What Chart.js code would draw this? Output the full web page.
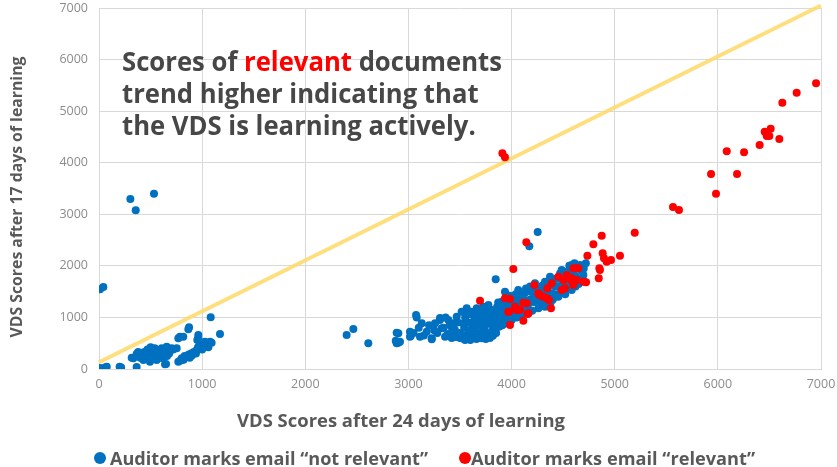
<!DOCTYPE html>
<html>
<head>
<meta charset="utf-8">
<script src="https://cdn.jsdelivr.net/npm/chart.js@4/dist/chart.umd.min.js"></script>
<style>
html,body{margin:0;padding:0;background:#fff;}
#wrap{position:relative;width:837px;height:467px;}
</style>
</head>
<body>
<div id="wrap"><canvas id="c" width="837" height="467"></canvas></div>
<script>
// ---- data ----
const axisTicks = [0, 1000, 2000, 3000, 4000, 5000, 6000, 7000];
const tickLabels = ['0', '1000', '2000', '3000', '4000', '5000', '6000', '7000'];

const notRelevantX = [
  0,15,30,45,60,75,8,200,215,365,
  317,333,365,398,430,462,494,511,559,559,608,624,656,705,640,650,420,450,480,500,530,550,580,600,620,650,680,720,753,470,520,540,590,455,380,400,440,610,575,660,540,500,
  769,785,802,850,898,947,996,1076,785,963,769,817,873,866,963,953,1028,1092,1083,1173,802,830,870,900,920,940,980,1010,1040,1060,880,820,1000,960,
  304,356,533,10,42,
  2401,2466,2611,2886,2877,2886,2902,2902,2918,3015,3022,3015,3074,
  3080,3112,3129,3177,3226,3226,3258,3306,3306,3322,3355,3387,3419,3435,3468,
  3280,3340,3380,3400,3450,3460,3480,3420,3360,3250,3200,3150,3100,3050,
  3500,3516,3500,3533,3516,3540,3550,3565,3549,3581,3580,3600,3613,3620,3646,3640,3662,3660,3694,3690,3700,3710,
  3560,3590,3620,3650,3670,3700,3720,3730,3760,3690,3630,3570,3680,3750,3600,3650,
  3726,3740,3740,3740,3750,3775,3770,3780,3790,3800,3810,3820,
  3790,3820,3850,3800,3830,3860,3880,3910,3920,3930,3950,3810,3760,3870,
  3839,3840,3850,3860,3870,3880,3890,3900,3904,3904,
  3936,3940,3950,3960,3970,3980,4001,4000,4010,4020,
  4065,4050,4060,4070,4080,4100,4110,4120,4130,4140,4163,4160,
  4030,4050,4090,4100,4150,4180,4190,4240,4250,4290,4320,4040,4180,
  4227,4200,4210,4220,4240,4260,4270,4280,4300,4300,
  4324,4324,4340,4350,4373,4380,4390,4400,
  4340,4360,4420,4420,4430,4470,4540,4550,4560,4620,4650,4700,4610,4400,
  4453,4450,4460,4486,4480,4500,4510,4520,
  4583,4580,4583,4600,4620,4640,4664,4660,4680,4696,4700,4720,
  4253,4172,3846
];
const notRelevantY = [
  0,5,0,15,30,45,20,45,30,40,
  220,207,290,271,175,336,142,368,368,175,401,207,433,401,91,95,300,250,300,200,280,320,260,330,280,350,300,380,401,380,330,230,220,210,330,220,330,370,300,250,400,420,
  142,160,207,239,304,368,465,530,627,607,595,626,808,770,659,562,530,510,1002,679,175,250,280,260,330,300,400,430,480,420,220,180,380,420,
  3296,3077,3400,1545,1590,
  659,776,498,704,549,498,510,692,530,723,640,627,1047,
  1000,627,886,723,595,576,886,950,989,789,627,950,723,886,1014,
  700,800,680,850,760,620,900,600,1000,750,850,650,800,700,
  600,595,700,886,1111,800,1000,1177,562,692,900,620,1111,780,821,980,1177,580,950,700,1060,595,
  650,750,900,700,850,620,750,900,1000,1150,1050,1050,1000,580,560,600,
  1208,650,800,950,1100,1241,700,880,1020,1150,640,780,
  600,650,700,900,1000,1100,1200,850,1000,1200,1350,1080,1150,950,
  756,900,1050,1200,1290,820,980,1120,1305,950,
  1499,880,1020,1160,1300,1420,950,1100,1250,1380,
  1532,1000,1150,1300,1420,1050,1200,1350,1480,1560,1080,1250,
  1050,1300,1150,1400,1150,1350,1500,1300,1450,1350,1500,1450,1600,
  1662,1130,1300,1450,1560,1180,1350,1500,1620,1250,
  1208,1693,1400,1550,1790,1300,1460,1650,
  1300,1700,1450,1600,1750,1850,1600,1900,2000,1800,1650,1950,2050,1350,
  1402,1600,1750,1920,1500,1680,1830,1450,
  1532,1700,2017,1850,1600,1950,2017,1750,1900,1823,1700,2050,
  2657,2379,1739
];

const relevantX = [
  6952,6764,6625,6512,6454,6474,6499,6596,6405,6086,6254,5934,6186,5982,5565,5623,4874,5194,3911,3936,
  4793,4735,4883,4896,4922,4964,5051,4851,4857,4845,4143,4017,3694,3936,3985,3975,4033,4082,4114,4147,
  3985,4114,4156,4221,4269,4308,4347,4389,4341,4363,4382,4453,4502,4567,4486,4518,4599,4647,4573,4599,
  4696,4722,4535,4631,4583,4631,4276,4260,4049,3968,4163
];
const relevantY = [
  5540,5358,5164,4660,4602,4518,4518,4460,4343,4221,4202,3781,3781,3400,3141,3083,2585,2643,4182,4105,
  2418,2197,2243,2147,2081,2114,2197,1953,1920,1759,2457,1939,1325,1371,1357,1111,1208,1144,1286,1274,
  853,937,1066,1629,1435,1402,1565,1662,1371,1338,1177,1790,1726,1759,1532,1565,1953,1953,1726,1629,
  1693,1681,1823,1953,1759,1726,1435,1468,1144,1111,1080
];

const trendX = [0, 7000];
const trendY = [130, 7050];

const seriesNames = ['Auditor marks email \u201cnot relevant\u201d', 'Auditor marks email \u201crelevant\u201d'];
const headline = [
  [['Scores of ', '#474747'], ['relevant', '#ff0000'], [' documents', '#474747']],
  [['trend higher indicating that', '#474747']],
  [['the VDS is learning actively.', '#474747']]
];
const xTitle = 'VDS Scores after 24 days of learning';
const yTitle = 'VDS Scores after 17 days of learning';

// ---- helpers ----
const pts = (xs, ys) => xs.map((x, i) => ({x: x, y: ys[i]}));
const FONT = '"Open Sans", "Noto Sans", sans-serif';

function fitText(ctx, text, x, y, targetW, font, color, align) {
  ctx.font = font;
  const w = ctx.measureText(text).width;
  const s = targetW / w;
  ctx.save();
  ctx.translate(x, y);
  ctx.scale(s, 1);
  ctx.fillStyle = color;
  ctx.textAlign = align || 'left';
  ctx.textBaseline = 'alphabetic';
  ctx.fillText(text, 0, 0);
  ctx.restore();
}

const textPlugin = {
  id: 'texts',
  afterDraw(chart) {
    const ctx = chart.ctx;
    ctx.save();
    // headline
    const hFont = 'bold 26.5px ' + FONT;
    ctx.font = hFont;
    const line1 = headline[0].map(p => p[0]).join('');
    const scale = 380 / ctx.measureText(line1).width;
    const baselines = [71, 103, 135];
    headline.forEach((parts, li) => {
      ctx.save();
      ctx.translate(122, baselines[li]);
      ctx.scale(scale, 1);
      ctx.font = hFont;
      ctx.textBaseline = 'alphabetic';
      let cx = 0;
      parts.forEach(p => {
        ctx.fillStyle = p[1];
        ctx.fillText(p[0], cx, 0);
        cx += ctx.measureText(p[0]).width;
      });
      ctx.restore();
    });
    // x title
    fitText(ctx, xTitle, 401, 427, 328, 'bold 18.5px ' + FONT, '#595959', 'center');
    // y title
    ctx.save();
    ctx.translate(22, 197);
    ctx.rotate(-Math.PI / 2);
    fitText(ctx, yTitle, 0, 0, 281, 'bold 16px ' + FONT, '#595959', 'center');
    ctx.restore();
    // legend
    const ds = chart.data.datasets;
    const items = [
      {cx: 100, tx: 110, w: 318, color: ds[1].backgroundColor, text: seriesNames[0]},
      {cx: 465, tx: 471, w: 284, color: ds[2].backgroundColor, text: seriesNames[1]}
    ];
    items.forEach(it => {
      ctx.beginPath();
      ctx.arc(it.cx, 458, 6, 0, Math.PI * 2);
      ctx.fillStyle = it.color;
      ctx.fill();
      fitText(ctx, it.text, it.tx, 465, it.w, 'bold 18px ' + FONT, '#595959', 'left');
    });
    ctx.restore();
  }
};

new Chart(document.getElementById('c'), {
  type: 'scatter',
  data: {
    datasets: [
      {
        type: 'line',
        label: 'trend',
        data: pts(trendX, trendY),
        borderColor: 'rgba(255, 217, 102, 0.85)',
        borderWidth: 4,
        pointRadius: 0,
        fill: false,
        clip: false,
        order: 3
      },
      {
        label: seriesNames[0],
        data: pts(notRelevantX, notRelevantY),
        backgroundColor: '#0070c0',
        borderWidth: 0,
        pointRadius: 4,
        order: 2
      },
      {
        label: seriesNames[1],
        data: pts(relevantX, relevantY),
        backgroundColor: '#ff0000',
        borderWidth: 0,
        pointRadius: 4,
        order: 1
      }
    ]
  },
  options: {
    responsive: false,
    animation: false,
    events: [],
    layout: {padding: {top: 8, right: 16, left: 0, bottom: 0}},
    plugins: {legend: {display: false}, tooltip: {enabled: false}, title: {display: false}},
    scales: {
      x: {
        type: 'linear',
        position: 'bottom',
        min: 0, max: 7000,
        afterBuildTicks: s => { s.ticks = axisTicks.map(v => ({value: v})); },
        afterFit: s => { s.height = 98; s.paddingRight = 0; s.paddingLeft = 0; },
        grid: {color: '#d9d9d9', lineWidth: 1, drawTicks: false},
        border: {color: '#d9d9d9'},
        ticks: {
          padding: 8,
          color: '#8c8c8c',
          font: {family: FONT, size: 12.5},
          maxRotation: 0,
          callback: v => tickLabels[axisTicks.indexOf(v)]
        }
      },
      y: {
        type: 'linear',
        min: 0, max: 7000,
        afterBuildTicks: s => { s.ticks = axisTicks.map(v => ({value: v})); },
        afterFit: s => { s.width = 99; s.paddingTop = 0; s.paddingBottom = 0; },
        grid: {color: '#d9d9d9', lineWidth: 1, drawTicks: false},
        border: {color: '#d9d9d9'},
        ticks: {
          padding: 11,
          color: '#8c8c8c',
          font: {family: FONT, size: 12.5},
          callback: v => tickLabels[axisTicks.indexOf(v)]
        }
      }
    }
  },
  plugins: [textPlugin]
});
</script>
</body>
</html>
